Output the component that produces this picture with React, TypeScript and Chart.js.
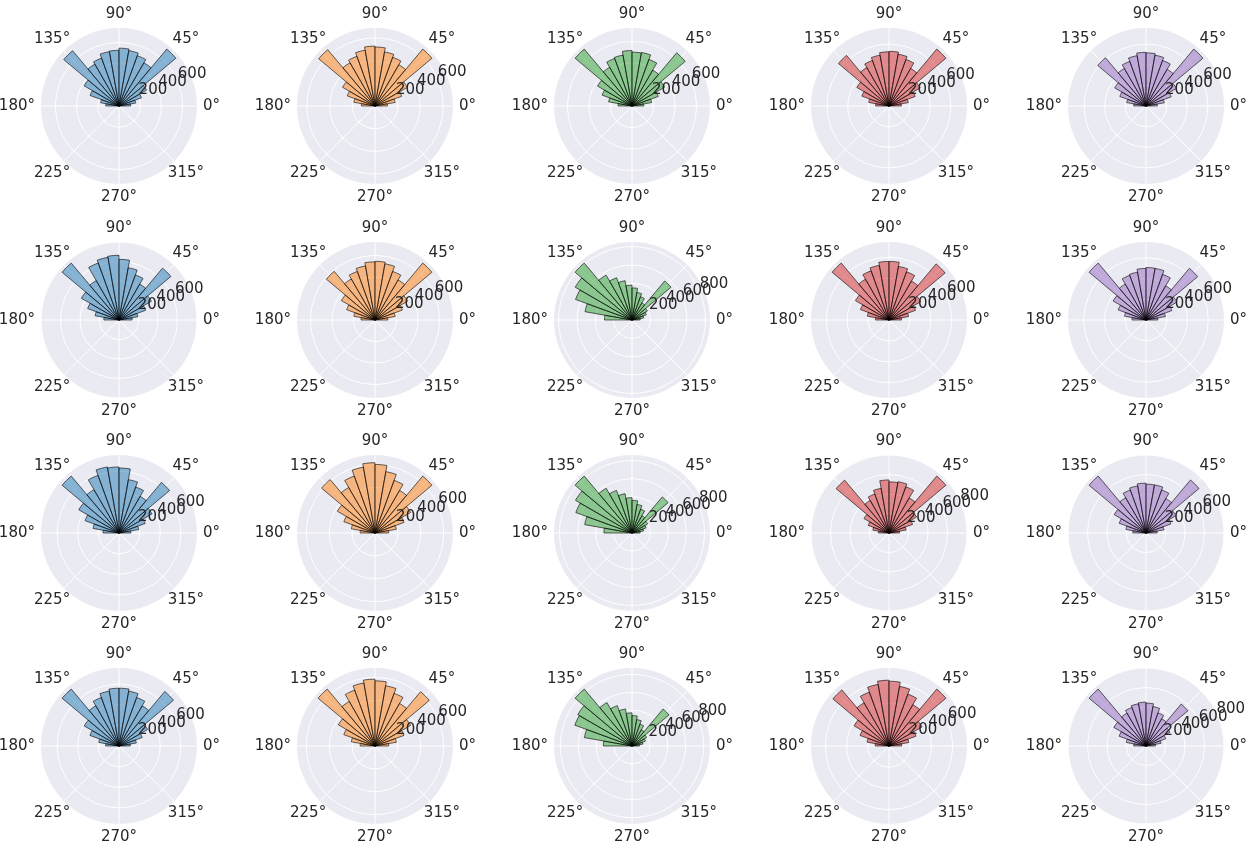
import React, { useEffect, useRef } from 'react';
import { Chart, registerables } from 'chart.js';

Chart.register(...registerables);

// Angle tick labels, listed clockwise starting at east (Chart.js walks clockwise).
const ANGLE_LABELS = ['0°', '315°', '270°', '225°', '180°', '135°', '90°', '45°'];
// Radial tick values
const RADIAL_TICKS = [200, 400, 600, 800];
// Column colours (tab10, alpha 0.5)
const COLORS = [
  'rgba(31,119,180,0.5)',
  'rgba(255,127,14,0.5)',
  'rgba(44,160,44,0.5)',
  'rgba(214,39,40,0.5)',
  'rgba(148,103,189,0.5)',
];

// Histogram counts per 10° bin: 0-10°, 10-20°, ..., 170-180°
const r1c1 = [110, 160, 225, 300, 700, 470, 505, 530, 545, 525, 520, 480, 455, 680, 380, 290, 175, 125];
const r1c2 = [110, 180, 250, 330, 655, 420, 457, 484, 520, 528, 500, 466, 440, 648, 330, 260, 190, 120];
const r1c3 = [110, 185, 260, 350, 645, 385, 460, 505, 500, 515, 480, 470, 415, 690, 370, 295, 220, 130];
const r1c4 = [120, 190, 270, 350, 720, 420, 480, 510, 530, 525, 500, 470, 430, 640, 360, 280, 200, 130];
const r1c5 = [110, 180, 260, 340, 720, 410, 470, 500, 515, 520, 495, 460, 420, 610, 350, 270, 190, 120];

const r2c1 = [130, 190, 280, 370, 670, 410, 475, 525, 600, 640, 630, 600, 450, 735, 430, 330, 240, 150];
const r2c2 = [120, 190, 270, 350, 690, 430, 480, 530, 545, 540, 510, 480, 440, 590, 360, 280, 200, 130];
const r2c3 = [90, 130, 165, 195, 555, 215, 270, 305, 350, 380, 435, 490, 565, 810, 715, 655, 520, 300];
const r2c4 = [120, 190, 270, 350, 700, 430, 490, 520, 560, 560, 530, 500, 450, 710, 370, 290, 210, 130];
const r2c5 = [115, 190, 265, 345, 650, 380, 468, 505, 506, 497, 468, 458, 400, 716, 365, 285, 210, 135];

const r3c1 = [115, 195, 270, 370, 640, 410, 475, 525, 630, 640, 650, 595, 485, 720, 450, 350, 255, 155];
const r3c2 = [120, 190, 270, 360, 650, 430, 490, 545, 600, 615, 585, 530, 460, 610, 380, 290, 210, 130];
const r3c3 = [90, 130, 165, 200, 520, 220, 280, 320, 360, 390, 440, 500, 570, 820, 720, 660, 530, 310];
const r3c4 = [110, 180, 260, 330, 770, 420, 510, 540, 530, 550, 470, 430, 390, 715, 300, 230, 170, 110];
const r3c5 = [110, 180, 260, 340, 680, 390, 450, 480, 480, 490, 470, 450, 400, 730, 360, 280, 200, 130];

const r4c1 = [110, 170, 240, 320, 690, 450, 500, 540, 560, 560, 540, 500, 450, 720, 390, 300, 200, 130];
const r4c2 = [120, 190, 270, 360, 620, 430, 490, 535, 570, 585, 560, 520, 450, 650, 370, 290, 210, 130];
const r4c3 = [85, 125, 160, 190, 540, 210, 260, 300, 340, 370, 420, 480, 560, 830, 700, 680, 540, 320];
const r4c4 = [120, 190, 270, 360, 700, 450, 520, 570, 610, 620, 590, 540, 470, 690, 380, 290, 210, 130];
const r4c5 = [100, 160, 220, 290, 575, 330, 370, 420, 450, 460, 450, 430, 400, 780, 390, 300, 210, 130];

const GRID = [
  [r1c1, r1c2, r1c3, r1c4, r1c5],
  [r2c1, r2c2, r2c3, r2c4, r2c5],
  [r3c1, r3c2, r3c3, r3c4, r3c5],
  [r4c1, r4c2, r4c3, r4c4, r4c5],
];

const COL_CENTERS = [119, 375, 632, 889, 1146];
const ROW_CENTERS = [106, 320, 533, 746];
const CANVAS_W = 256;
const CANVAS_H = 212;
const RADIUS = 78;
const FONT_SIZE = 15;
const FONT = `${FONT_SIZE}px "DejaVu Sans", sans-serif`;
const TEXT_COLOR = '#262626';

const backgroundPlugin = {
  id: 'polarBg',
  beforeDraw(chart: any) {
    const s = chart.scales.r;
    const ctx = chart.ctx;
    ctx.save();
    ctx.beginPath();
    ctx.arc(s.xCenter, s.yCenter, s.drawingArea, 0, Math.PI * 2);
    ctx.fillStyle = '#EAEAF2';
    ctx.fill();
    ctx.restore();
  },
};

const labelPlugin = {
  id: 'polarLabels',
  afterDraw(chart: any) {
    const s = chart.scales.r;
    const ctx = chart.ctx;
    ctx.save();
    ctx.font = FONT;
    ctx.fillStyle = TEXT_COLOR;
    // angle labels
    const R = s.drawingArea;
    ANGLE_LABELS.forEach((lab, i) => {
      const p = s.getPointPosition(i, R + 6);
      const q = s.getPointPosition(i, R + 7);
      const ux = q.x - p.x;
      const uy = q.y - p.y;
      const w = ctx.measureText(lab).width;
      const h = FONT_SIZE;
      const dx = Math.abs(ux) > 1e-6 ? w / 2 / Math.abs(ux) : Infinity;
      const dy = Math.abs(uy) > 1e-6 ? h / 2 / Math.abs(uy) : Infinity;
      const d = Math.min(dx, dy);
      ctx.textAlign = 'center';
      ctx.textBaseline = 'middle';
      ctx.fillText(lab, p.x + ux * d, p.y + uy * d);
    });
    // radial labels at 22.5°
    const a = (22.5 * Math.PI) / 180;
    ctx.textAlign = 'left';
    ctx.textBaseline = 'bottom';
    RADIAL_TICKS.forEach((v) => {
      if (v >= s.max) return;
      const r = s.getDistanceFromCenterForValue(v);
      ctx.fillText(String(v), s.xCenter + r * Math.cos(a), s.yCenter - r * Math.sin(a));
    });
    ctx.restore();
  },
};

function Panel({ bins, color, left, top }: { bins: number[]; color: string; left: number; top: number }) {
  const ref = useRef<HTMLCanvasElement | null>(null);
  useEffect(() => {
    if (!ref.current) return;
    // lower half (180°-360°) is empty; upper half listed clockwise from 180° down to 0°
    const lower = new Array(bins.length).fill(0);
    const upper = bins.slice().reverse();
    const data = lower.concat(upper);
    const rmax = Math.max(...bins) * 1.05;
    const chart = new Chart(ref.current, {
      type: 'polarArea',
      data: {
        labels: ANGLE_LABELS,
        datasets: [
          {
            data,
            backgroundColor: color,
            borderColor: 'rgba(0,0,0,0.6)',
            borderWidth: (c: any) => (c.raw > 0 ? 1 : 0),
          } as any,
        ],
      },
      options: {
        responsive: false,
        animation: false,
        devicePixelRatio: 1,
        layout: { padding: { left: (CANVAS_W - 2 * RADIUS) / 2, right: (CANVAS_W - 2 * RADIUS) / 2, top: (CANVAS_H - 2 * RADIUS) / 2, bottom: (CANVAS_H - 2 * RADIUS) / 2 } },
        plugins: { legend: { display: false }, tooltip: { enabled: false } },
        elements: { arc: { borderAlign: 'center' } as any },
        scales: {
          r: {
            min: 0,
            max: rmax,
            startAngle: 90,
            ticks: { display: false, stepSize: 200, includeBounds: false } as any,
            grid: { color: '#ffffff', lineWidth: 1, circular: true },
            angleLines: { display: true, color: '#ffffff', lineWidth: 1 },
            pointLabels: { display: false },
          } as any,
        },
      } as any,
      plugins: [backgroundPlugin, labelPlugin],
    });
    return () => chart.destroy();
  }, [bins, color]);
  return (
    <canvas
      ref={ref}
      width={CANVAS_W}
      height={CANVAS_H}
      style={{ position: 'absolute', left, top, width: CANVAS_W, height: CANVAS_H }}
    />
  );
}

export default function App() {
  return (
    <div style={{ position: 'absolute', left: 0, top: 0, width: 1256, height: 856, background: '#ffffff' }}>
      {GRID.map((row, ri) =>
        row.map((bins, ci) => (
          <Panel
            key={`${ri}-${ci}`}
            bins={bins}
            color={COLORS[ci]}
            left={COL_CENTERS[ci] - CANVAS_W / 2}
            top={ROW_CENTERS[ri] - CANVAS_H / 2}
          />
        ))
      )}
    </div>
  );
}
